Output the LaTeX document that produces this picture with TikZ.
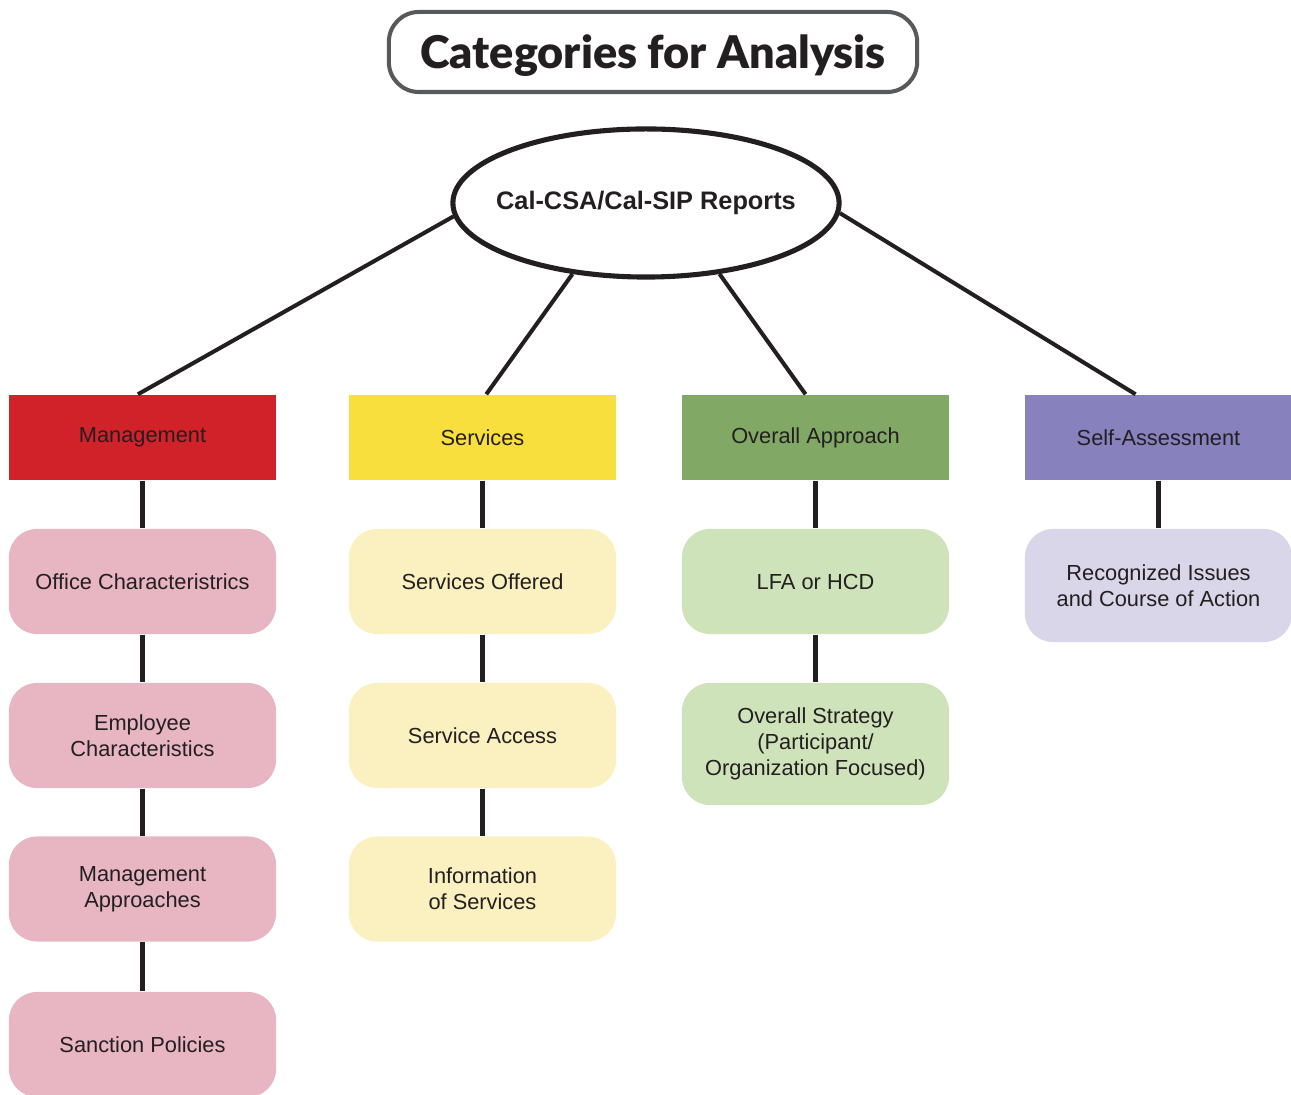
\documentclass[tikz,border=0pt]{standalone}
\usepackage{fontspec}
\setmainfont{Liberation Sans}
\newfontfamily\titlefont{Lato Black}
\usetikzlibrary{shapes.geometric}
\definecolor{ink}{HTML}{231F20}
\definecolor{framegray}{HTML}{58595B}
\definecolor{mgmtred}{HTML}{D12229}
\definecolor{servyellow}{HTML}{F9DF3E}
\definecolor{apprgreen}{HTML}{81A864}
\definecolor{selfpurple}{HTML}{8781BD}
\definecolor{mgmtpink}{HTML}{E8B6C2}
\definecolor{servpale}{HTML}{FBF0C0}
\definecolor{apprpale}{HTML}{CFE3BA}
\definecolor{selfpale}{HTML}{D9D6EA}
\begin{document}
\begin{tikzpicture}[x=0.01cm, y=-0.01cm,
	cat/.style={minimum width=2.67cm, minimum height=0.85cm, inner sep=0pt, text=ink, font=\fontsize{6.2}{7.4}\selectfont},
	item/.style={rounded corners=0.28cm, minimum width=2.67cm, minimum height=1.05cm, inner sep=0pt, align=center, text=ink, font=\fontsize{6.2}{7.4}\selectfont},
	link/.style={line width=1.15pt, draw=ink},
	stem/.style={line width=1.45pt, draw=ink}]
		\useasboundingbox (0,0) rectangle (1291,1095);

		\node[draw=framegray, line width=1.15pt, rounded corners=0.3cm, minimum width=5.28cm, minimum height=0.8cm, inner sep=0pt, text depth=0pt, text=ink, font=\titlefont\fontsize{12.8}{14}\selectfont] (title) at (653,52) {Categories for Analysis};

		\node[draw=ink, ellipse, line width=1.45pt, minimum width=3.86cm, minimum height=1.48cm, inner sep=0pt,
			label={[text=ink, font=\bfseries\fontsize{7.2}{8.6}\selectfont]center:Cal-CSA/Cal-SIP Reports}] (root) at (646,203) {};

		\node[cat, fill=mgmtred] (mgmt) at (142.5,437.5) {Management};
		\node[cat, fill=servyellow] (serv) at (482.5,437.5) {Services};
		\node[cat, fill=apprgreen] (appr) at (815.5,437.5) {Overall Approach};
		\node[cat, fill=selfpurple] (self) at (1158.5,437.5) {Self-Assessment};

		\draw[link] (root.184) -- (mgmt.96);
		\draw[link] (root.224) -- (serv.85);
		\draw[link] (root.316) -- (appr.103);
		\draw[link] (root.357) -- (self.118);

		\node[item, fill=mgmtpink] (office) at (142.5,581.5) {Office Characteristrics};
		\node[item, fill=mgmtpink] (staff) at (142.5,735.5) {Employee\\Characteristics};
		\node[item, fill=mgmtpink] (methods) at (142.5,889) {Management\\Approaches};
		\node[item, fill=mgmtpink] (sanction) at (142.5,1044.5) {Sanction Policies};
		\draw[stem] (mgmt) -- (office);
		\draw[stem] (office) -- (staff);
		\draw[stem] (staff) -- (methods);
		\draw[stem] (methods) -- (sanction);

		\node[item, fill=servpale] (offered) at (482.5,581.5) {Services Offered};
		\node[item, fill=servpale] (access) at (482.5,735.5) {Service Access};
		\node[item, fill=servpale] (info) at (482.5,889) {Information\\of Services};
		\draw[stem] (serv) -- (offered);
		\draw[stem] (offered) -- (access);
		\draw[stem] (access) -- (info);

		\node[item, fill=apprpale] (lfa) at (815.5,581.5) {LFA or HCD};
		\node[item, fill=apprpale, minimum height=1.22cm] (strategy) at (815.5,744) {Overall Strategy\\(Participant/\\Organization Focused)};
		\draw[stem] (appr) -- (lfa);
		\draw[stem] (lfa) -- (strategy);

		\node[item, fill=selfpale, minimum height=1.13cm] (issues) at (1158.5,585.5) {Recognized Issues\\and Course of Action};
		\draw[stem] (self) -- (issues);

	\end{tikzpicture}
\end{document}
